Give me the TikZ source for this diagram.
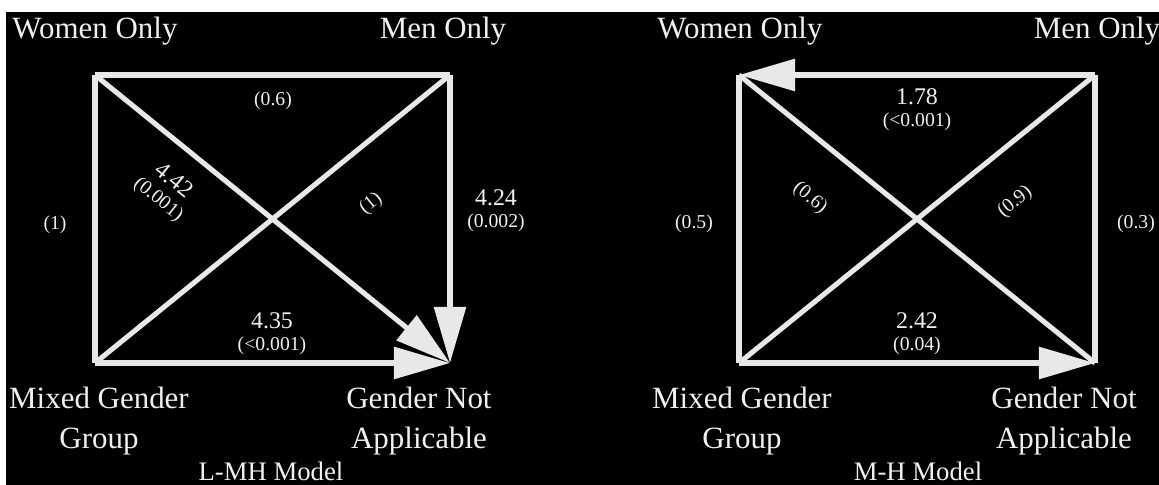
\documentclass[tikz,border=0pt]{standalone}
\usepackage{fontspec}
\setmainfont{Liberation Serif}
\usetikzlibrary{arrows.meta,positioning}
\definecolor{EdgeGrey}{RGB}{232,232,232}
\definecolor{TextGrey}{RGB}{240,240,240}

\begin{document}
\begin{tikzpicture}[x=0.025cm,y=-0.025cm,
        grp/.style={text=TextGrey,font=\fontsize{22}{28.5}\selectfont,
                    align=center,inner sep=0pt},
        est/.style={text=TextGrey,font=\fontsize{17}{19}\selectfont,inner sep=0pt},
        pval/.style={text=TextGrey,font=\fontsize{14}{16}\selectfont,inner sep=0pt},
        mdl/.style={text=TextGrey,font=\fontsize{19}{20}\selectfont,inner sep=0pt},
        lnk/.style={EdgeGrey,line width=3.6pt},
        arr/.style={lnk,-{Triangle[length=1.4cm,width=0.78cm]}}
      ]
        \useasboundingbox (0,0) rectangle (1159,485);
        \fill[black] (6,12) rectangle (1159,485);

        % L-MH model
        \coordinate (w1) at (95,75);
        \coordinate (m1) at (450,75);
        \coordinate (x1) at (95,363);
        \coordinate (g1) at (450,363);
        \node[grp] (wo1) at (95,31) {Women Only};
        \node[grp] (mo1) at (443,31) {Men Only};
        \node[grp] (mg1) at (99,421) {Mixed Gender\\Group};
        \node[grp] (gn1) at (419,421) {Gender Not\\Applicable};
        \node[mdl] (model1) at (271,471) {L-MH Model};
        \draw[lnk] (w1)--(m1); \draw[lnk] (w1)--(x1);
        \draw[lnk] (m1)--(x1);
        \draw[arr] (w1)--(g1); \draw[arr] (m1)--(g1);
        \draw[arr] (x1)--(g1);
        \node[pval] (p1wm) at (273,101) {(0.6)};
        \node[pval] (p1wx) at (55,225) {(1)};
        \node[est] (e1mg) at (496,198) {4.24};
        \node[pval,below=5pt of e1mg] (p1mg) {(0.002)};
        \node[est] (e1xg) at (272,321) {4.35};
        \node[pval,below=5pt of e1xg] (p1xg) {(<0.001)};
        \node[align=center,text=TextGrey,inner sep=0pt,rotate=-39] (e1wg) at (166,190)
          {{\fontsize{17}{19}\selectfont 4.42}\\[4pt]{\fontsize{14}{16}\selectfont (0.001)}};
        \node[pval,rotate=39] (p1mx) at (371,204) {(1)};

        % M-H model
        \coordinate (w2) at (739,75);
        \coordinate (m2) at (1095,75);
        \coordinate (x2) at (739,363);
        \coordinate (g2) at (1095,363);
        \node[grp] (wo2) at (740,31) {Women Only};
        \node[grp] (mo2) at (1097,31) {Men Only};
        \node[grp] (mg2) at (742,421) {Mixed Gender\\Group};
        \node[grp] (gn2) at (1064,421) {Gender Not\\Applicable};
        \node[mdl] (model2) at (918,471) {M-H Model};
        \draw[lnk] (w2)--(x2); \draw[lnk] (m2)--(g2);
        \draw[lnk] (w2)--(g2); \draw[lnk] (m2)--(x2);
        \draw[arr] (m2)--(w2); \draw[arr] (x2)--(g2);
        \node[est] (e2mw) at (917,97) {1.78};
        \node[pval,below=5pt of e2mw] (p2mw) {(<0.001)};
        \node[pval] (p2wx) at (694,224) {(0.5)};
        \node[pval] (p2mg) at (1136,224) {(0.3)};
        \node[pval,rotate=-39] (p2wg) at (810,198) {(0.6)};
        \node[pval,rotate=39] (p2mx) at (1015,202) {(0.9)};
        \node[est] (e2xg) at (917,321) {2.42};
        \node[pval,below=5pt of e2xg] (p2xg) {(0.04)};
      \end{tikzpicture}
\end{document}
